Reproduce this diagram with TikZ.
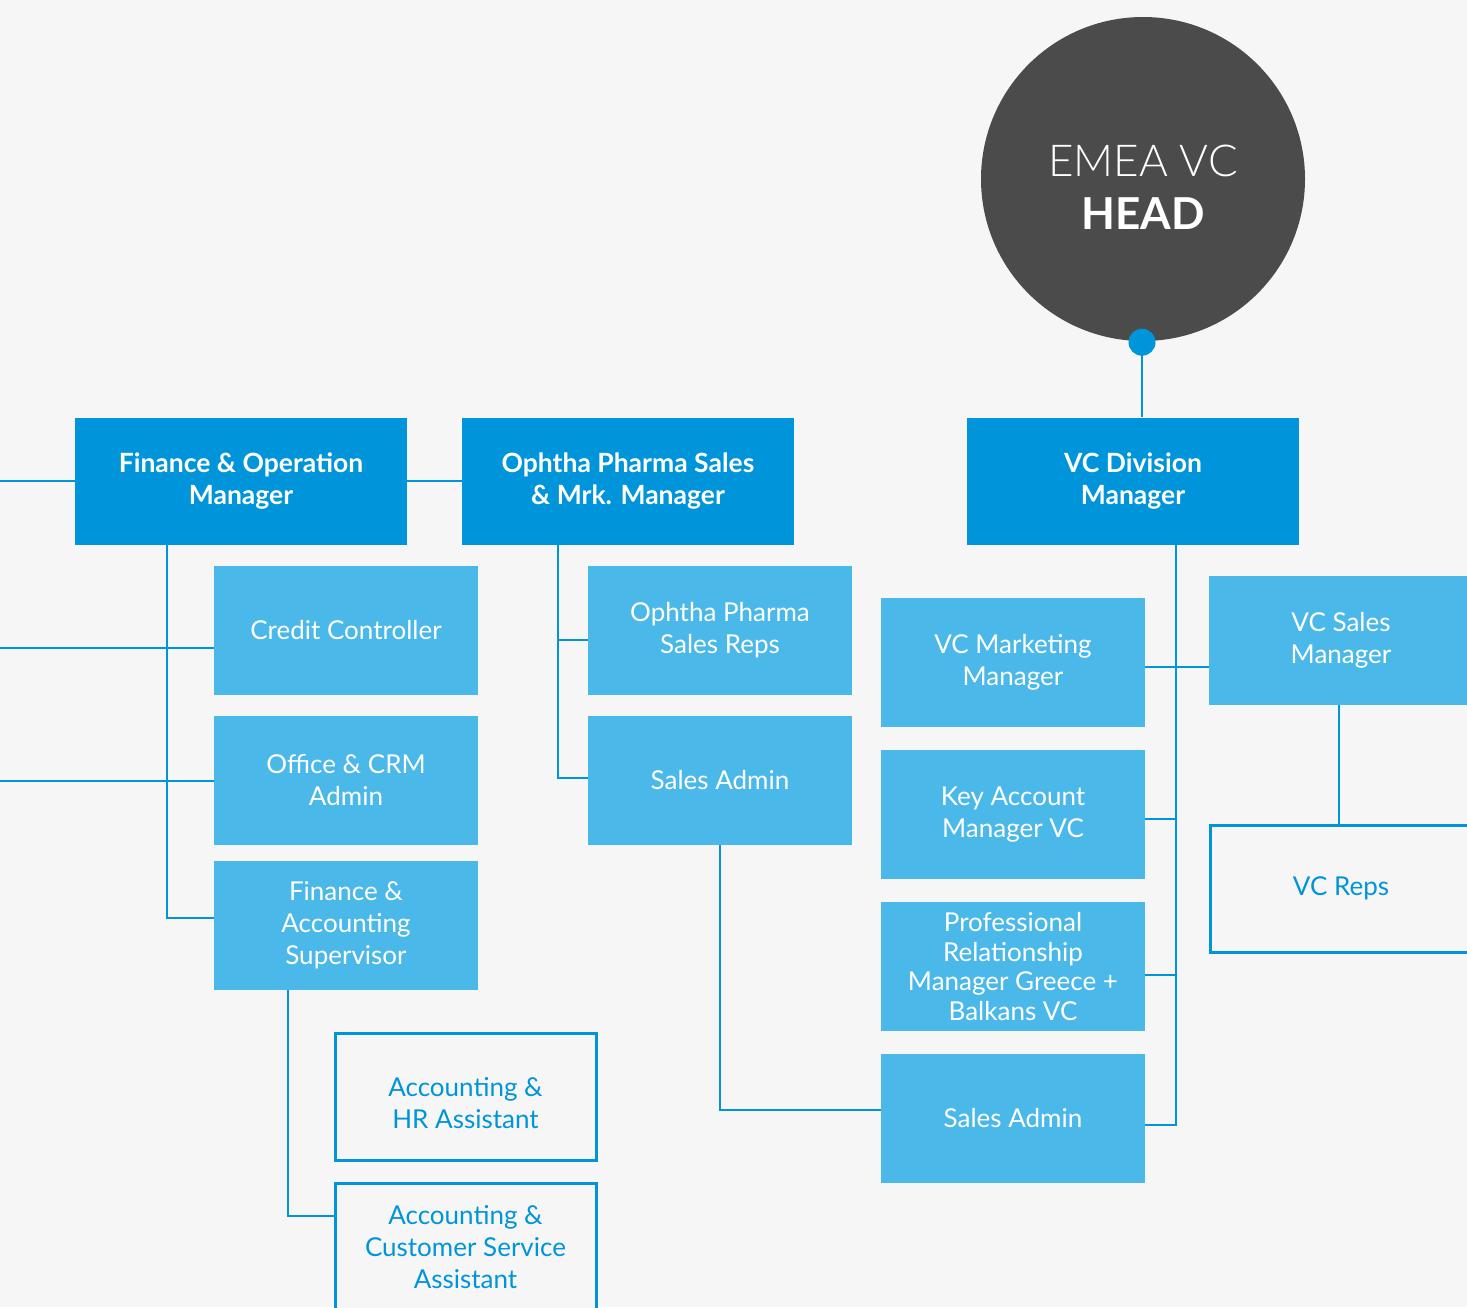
\documentclass[tikz,border=0pt]{standalone}
\usepackage{fontspec}
\setmainfont{Lato}
\IfFontExistsTF{Lato Light}{\newfontfamily\headlight{Lato Light}}{\newfontfamily\headlight{Lato}}
\definecolor{bg}{HTML}{F6F6F6}
\definecolor{hdblue}{HTML}{0095DA}
\definecolor{ltblue}{HTML}{4BB8EA}
\definecolor{headgray}{HTML}{4A4B4A}
\begin{document}
\begin{tikzpicture}[x=1pt,y=-1pt,
  boss/.style={rectangle, fill=hdblue, text=white, minimum width=332pt, minimum height=127pt,
    inner sep=0pt, align=center, font=\fontsize{26.5}{32}\selectfont\bfseries},
  staff/.style={rectangle, fill=ltblue, text=white, minimum width=264pt, minimum height=129pt,
    inner sep=0pt, align=center, font=\fontsize{26}{32}\selectfont},
  assist/.style={rectangle, draw=hdblue, line width=3pt, fill=bg, text=hdblue,
    minimum width=261pt, minimum height=127pt, inner sep=0pt, align=center,
    font=\fontsize{26}{32}\selectfont},
  caption/.style={inner sep=0pt, align=center, text=hdblue, font=\fontsize{26}{32}\selectfont},
  link/.style={draw=hdblue, line width=2.6pt}
]
\useasboundingbox (0,0) rectangle (1467,1307);
\clip (0,0) rectangle (1467,1307);
\fill[bg] (0,0) rectangle (1467,1307);

% head of the division
\node[circle, fill=headgray, minimum size=324pt, inner sep=0pt] (head) at (1143,179) {};
\node[inner sep=0pt, align=center, text=white, font=\fontsize{44}{53}\selectfont]
  (headtxt) at ([yshift=-8pt]head.center) {{\headlight EMEA VC}\\{\bfseries HEAD}};

% managers
\node[boss] (fom)  at (241,481)  {Finance \& Operation\\Manager};
\node[boss] (ophm) at (628,481)  {Ophtha Pharma Sales\\\& Mrk. Manager};
\node[boss] (vcdm) at (1133,481) {VC Division\\Manager};

% finance team
\node[staff] (cc)     at (346,630.5) {Credit Controller};
\node[staff] (office) at (346,780.5) {Office \& CRM\\Admin};
\node[staff] (fas)    at (346,925.5) {Finance \&\\Accounting\\Supervisor};
\node[assist] (ahr)   at (465.5,1097) {};
\node[caption] (ahrtxt) at ([yshift=-6pt]ahr.center) {Accounting \&\\HR Assistant};
\node[assist] (acs)   at (465.5,1247) {Accounting \&\\Customer Service\\Assistant};

% ophtha pharma team
\node[staff] (opsr)  at (720,630.5) {Ophtha Pharma\\Sales Reps};
\node[staff] (sadmA) at (720,780.5) {Sales Admin};

% VC team
\node[staff] (vcmm)  at (1013,662.5)  {VC Marketing\\Manager};
\node[staff] (kam)   at (1013,814.5)  {Key Account\\Manager VC};
\node[staff, font=\fontsize{26}{29.5}\selectfont] (prm) at (1013,966.5)
  {Professional\\Relationship\\Manager Greece +\\Balkans VC};
\node[staff] (sadmB) at (1013,1118.5) {Sales Admin};
\node[staff] (vcsm)  at (1341,640.5)  {VC Sales\\Manager};
\node[assist, minimum width=262pt] (reps) at (1341,888.5) {VC Reps};

% connectors entering from the left
\coordinate (edgeA) at (0,481);
\coordinate (edgeB) at (0,648);
\coordinate (edgeC) at (0,781);
\draw[link] (edgeA) -- (fom.west);
\draw[link] (edgeB) -- (edgeB -| cc.west);
\draw[link] (edgeC) -- (edgeC -| office.west);
\draw[link] (fom.east) -- (ophm.west);

% finance branch
\draw[link] ([xshift=-74pt]fom.south) |- ([yshift=7.5pt]fas.west);
\draw[link] ([xshift=-58pt]fas.south) |- ([yshift=31pt]acs.west);

% ophtha branch
\draw[link] ([xshift=-70pt]ophm.south) |- ([yshift=-9.5pt]opsr.west);
\draw[link] ([xshift=-70pt]ophm.south) |- ([yshift=2.5pt]sadmA.west);
\draw[link] (sadmA.south) |- ([yshift=8.5pt]sadmB.west);

% VC branch
\draw[link] ([xshift=-1pt]head.south) -- ([xshift=-1pt]head.south |- vcdm.north);
\node[circle, fill=hdblue, minimum size=27pt, inner sep=0pt] (dot) at ([xshift=-1pt,yshift=-1pt]head.south) {};
\draw[link] ([xshift=43pt]vcdm.south) |- ([yshift=-6.5pt]sadmB.east);
\draw[link] ([yshift=-4.5pt]vcmm.east) -- ([yshift=-26.5pt]vcsm.west);
\draw[link] ([yshift=-4.5pt]kam.east) -- ++(31,0);
\draw[link] ([yshift=-8.5pt]prm.east) -- ++(31,0);
\draw[link] ([xshift=-2pt]vcsm.south) -- ([xshift=-2pt]vcsm.south |- reps.north);
\end{tikzpicture}
\end{document}
